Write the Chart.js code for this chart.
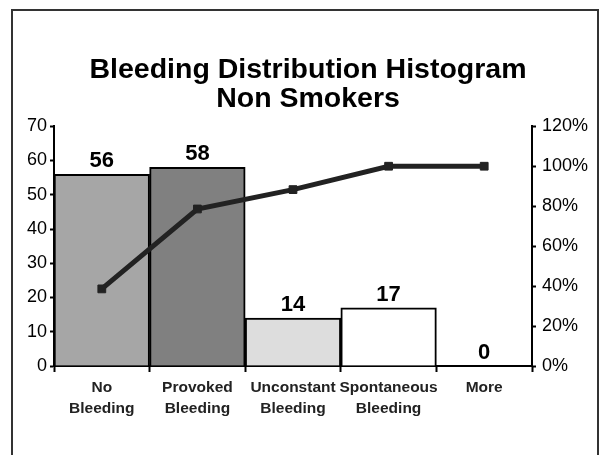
<!DOCTYPE html>
<html>
<head>
<meta charset="utf-8">
<script src="https://cdn.jsdelivr.net/npm/chart.js@4/dist/chart.umd.min.js"></script>
<style>
  html, body { margin: 0; padding: 0; background: #ffffff; overflow: hidden; }
  #wrap { position: relative; width: 601px; height: 455px; }
  #frame { position: absolute; left: 11px; top: 9px; width: 584px; height: 500px;
           border: 2px solid #333333; pointer-events: none; }
  canvas { position: absolute; left: 0; top: 0; }
</style>
</head>
<body>
<div id="wrap">
  <canvas id="c" width="601" height="455"></canvas>
  <div id="frame"></div>
</div>
<script>
const categories = [["No", "Bleeding"], ["Provoked", "Bleeding"], ["Unconstant", "Bleeding"], ["Spontaneous", "Bleeding"], ["More"]];
const frequency = [56, 58, 14, 17, 0];
const cumulativePct = [0.386, 0.786, 0.883, 1.0, 1.0];
const barColors = ["#a6a6a6", "#808080", "#dddddd", "#ffffff", "#ffffff"];
const titleLines = ["Bleeding Distribution Histogram", "Non Smokers"];
const leftTicks = { min: 0, max: 70, step: 10 };
const rightTicks = { min: 0, max: 1.2, step: 0.2 };

const FONT = "'Liberation Sans', Arial, sans-serif";

const barLabels = {
  id: 'barLabels',
  afterDatasetsDraw(chart) {
    const meta = chart.getDatasetMeta(1);
    const ctx = chart.ctx;
    ctx.save();
    ctx.font = "bold 22px " + FONT;
    ctx.fillStyle = "#000000";
    ctx.textAlign = "center";
    ctx.textBaseline = "alphabetic";
    meta.data.forEach((el, i) => {
      ctx.fillText(String(frequency[i]), el.x, el.y - 7);
    });
    ctx.restore();
  }
};

new Chart(document.getElementById('c'), {
  data: {
    labels: categories,
    datasets: [
      {
        type: 'line',
        data: cumulativePct,
        yAxisID: 'y1',
        borderColor: '#222222',
        borderWidth: 5,
        backgroundColor: '#222222',
        pointStyle: 'rect',
        pointRadius: 5.5,
        pointBorderWidth: 1,
        pointBackgroundColor: '#222222',
        pointBorderColor: '#222222',
        tension: 0,
        order: 0
      },
      {
        type: 'bar',
        data: frequency,
        yAxisID: 'y',
        backgroundColor: barColors,
        borderColor: '#000000',
        borderWidth: 2,
        categoryPercentage: 1.0,
        barPercentage: 1.0,
        order: 1
      }
    ]
  },
  options: {
    responsive: false,
    animation: false,
    events: [],
    layout: { padding: { left: 15, right: 0, top: 0, bottom: 0 } },
    plugins: {
      legend: { display: false },
      tooltip: { enabled: false },
      title: {
        display: true,
        text: titleLines,
        color: '#000000',
        font: { family: FONT, size: 28.5, weight: 'bold', lineHeight: 1.04 },
        padding: { top: 55, bottom: 12 }
      }
    },
    scales: {
      x: {
        offset: true,
        grid: { display: true, drawOnChartArea: false, offset: true, tickLength: 6, tickColor: '#000000', tickWidth: 2 },
        border: { display: true, color: '#000000', width: 2 },
        ticks: { color: '#222222', font: { family: FONT, size: 15.5, weight: 'bold', lineHeight: 1.3 }, padding: 6, maxRotation: 0, autoSkip: false },
        afterFit(s) { s.height = 89; }
      },
      y: {
        position: 'left',
        min: leftTicks.min, max: leftTicks.max,
        grid: { display: true, drawOnChartArea: false, tickLength: 4, tickColor: '#000000', tickWidth: 2 },
        border: { display: true, color: '#000000', width: 2 },
        ticks: { stepSize: leftTicks.step, color: '#000000', font: { family: FONT, size: 18 }, padding: 3 },
        afterFit(s) { s.width = 39; }
      },
      y1: {
        position: 'right',
        min: rightTicks.min, max: rightTicks.max,
        grid: { display: true, drawOnChartArea: false, tickLength: 4, tickColor: '#000000', tickWidth: 2 },
        border: { display: true, color: '#000000', width: 2 },
        ticks: { stepSize: rightTicks.step, color: '#000000', font: { family: FONT, size: 18 }, padding: 6,
                 callback: v => Math.round(v * 100) + '%' },
        afterFit(s) { s.width = 69; }
      }
    }
  },
  plugins: [barLabels]
});
</script>
</body>
</html>
